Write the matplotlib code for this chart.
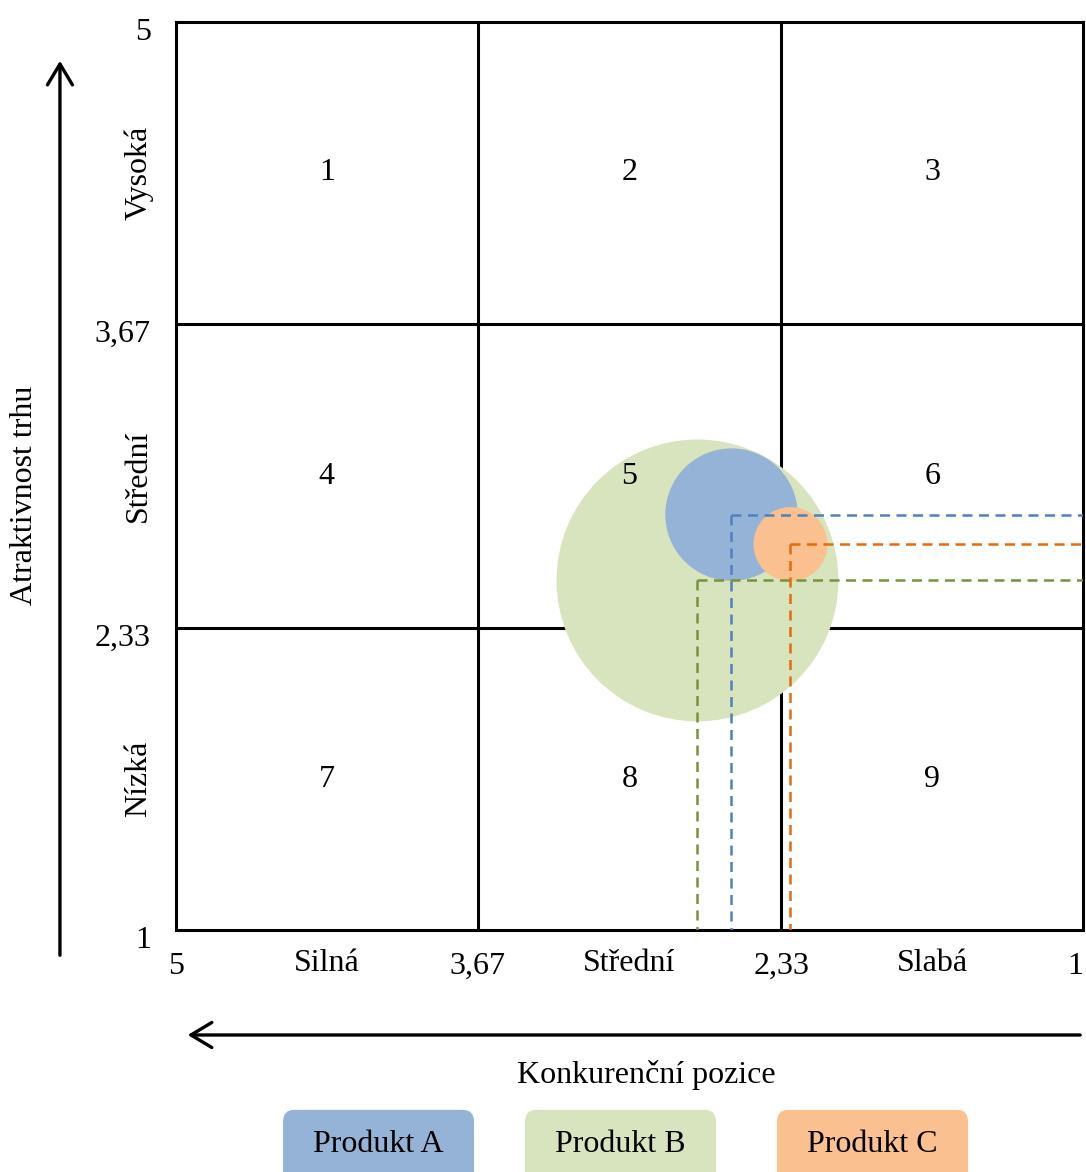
import matplotlib.pyplot as plt
from matplotlib.patches import FancyBboxPatch, FancyArrowPatch
from matplotlib.transforms import ScaledTranslation

plt.rcParams['font.family'] = ['Liberation Serif', 'DejaVu Serif']

# GE matice - produkty
produkty = ['Produkt A', 'Produkt B', 'Produkt C']
pozice = [2.55, 2.70, 2.29]          # konkurenční pozice
atraktivita = [2.83, 2.54, 2.70]     # atraktivnost trhu
velikost = [3.2, 14.5, 1.0]          # relativní velikost bubliny

hranice = [5, 3.67, 2.33, 1]
hranice_popisky = ['5', '3,67', '2,33', '1']
x_kategorie = ['Silná', 'Střední', 'Slabá']
y_kategorie = ['Vysoká', 'Střední', 'Nízká']
cisla_poli = [[1, 2, 3], [4, 5, 6], [7, 8, 9]]

barvy_vypln = ['#95B3D7', '#D7E4BD', '#FAC090']
barvy_cara = ['#4F81BD', '#77933C', '#E46C0A']

FS = 23

fig = plt.figure(figsize=(10.86, 11.72), dpi=100)
ax = fig.add_axes([0.162, 0.2065, 0.8352, 0.7747])
ax.set_xlim(5, 1)
ax.set_ylim(1, 5)

# mřížka 3x3
for h in hranice[1:-1]:
    ax.axvline(h, color='black', lw=2.2, zorder=1)
    ax.axhline(h, color='black', lw=2.2, zorder=1)
for s in ax.spines.values():
    s.set_linewidth(2.2)
    s.set_color('black')

# bubliny - nejvetsi dole
poradi = sorted(range(len(produkty)), key=lambda i: -velikost[i])
for i in poradi:
    ax.scatter(pozice[i], atraktivita[i], s=velikost[i] * 2840,
               color=barvy_vypln[i], edgecolors='none', zorder=2)

# prerusovane cary k osam
for i in range(len(produkty)):
    ax.plot([pozice[i], 1], [atraktivita[i], atraktivita[i]], color=barvy_cara[i],
            lw=1.8, dashes=(4, 2.6), zorder=3)
    ax.plot([pozice[i], pozice[i]], [atraktivita[i], 1], color=barvy_cara[i],
            lw=1.8, dashes=(4, 2.6), zorder=3)

# cisla poli
for r, radek in enumerate(cisla_poli):
    yc = (hranice[r] + hranice[r + 1]) / 2
    for c, cislo in enumerate(radek):
        xc = (hranice[c] + hranice[c + 1]) / 2
        ax.text(xc, yc, str(cislo), ha='center', va='center', fontsize=FS, zorder=4)

# osy
ax.set_xticks(hranice)
ax.set_xticklabels(hranice_popisky)
ax.set_yticks(hranice)
ax.set_yticklabels(hranice_popisky)
ax.tick_params(axis='both', length=0, labelsize=FS)
ax.tick_params(axis='x', pad=16)
ax.tick_params(axis='y', pad=18)
ax.get_xticklabels()[-1].set_ha('right')
posun = ScaledTranslation(0, -5 / 72, fig.dpi_scale_trans)
for t in ax.get_yticklabels():
    t.set_transform(t.get_transform() + posun)

for k, nazev in enumerate(x_kategorie):
    xc = (hranice[k] + hranice[k + 1]) / 2
    ax.text(xc, -0.037, nazev, transform=ax.get_xaxis_transform(),
            ha='center', va='center', fontsize=FS)
for k, nazev in enumerate(y_kategorie):
    yc = (hranice[k] + hranice[k + 1]) / 2
    ax.text(-0.041, yc, nazev, transform=ax.get_yaxis_transform(),
            ha='center', va='center', rotation=90, fontsize=FS)

# sipky a nazvy os
fig.patches.append(FancyArrowPatch((0.0552, 0.1826), (0.0552, 0.9505), transform=fig.transFigure,
                                   arrowstyle='->,head_length=0.75,head_width=0.45',
                                   mutation_scale=20, lw=2.4, color='black'))
fig.patches.append(FancyArrowPatch((0.9972, 0.1169), (0.1703, 0.1169), transform=fig.transFigure,
                                   arrowstyle='->,head_length=0.75,head_width=0.45',
                                   mutation_scale=20, lw=2.4, color='black'))
fig.text(0.023, 0.5777, 'Atraktivnost trhu', rotation=90, ha='center', va='center', fontsize=FS)
fig.text(0.5948, 0.0828, 'Konkurenční pozice', ha='center', va='center', fontsize=FS)

# legenda
leg_x = [0.2606, 0.4834, 0.7155]
for i, nazev in enumerate(produkty):
    fig.patches.append(FancyBboxPatch((leg_x[i], -0.02), 0.1759, 0.073,
                                      boxstyle='round,pad=0,rounding_size=0.01',
                                      transform=fig.transFigure, facecolor=barvy_vypln[i],
                                      edgecolor='none'))
    fig.text(leg_x[i] + 0.088, 0.0235, nazev, ha='center', va='center', fontsize=FS)

fig.savefig('out.png', dpi=100)
